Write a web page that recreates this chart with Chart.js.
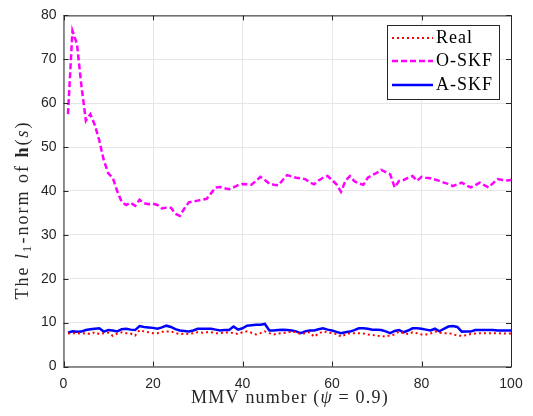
<!DOCTYPE html>
<html>
<head>
<meta charset="utf-8">
<script src="https://cdn.jsdelivr.net/npm/chart.js@4"></script>
<style>
  html, body { margin: 0; padding: 0; background: #fff; }
  #wrap { width: 533px; height: 416px; }
</style>
</head>
<body>
<div id="wrap"><canvas id="chart" width="533" height="416"></canvas></div>
<script>
// MMV index 1..100 on the x axis
const mmvIndex = Array.from({ length: 100 }, (_, i) => i + 1)

const realNorm = [
  7.5, 7.6, 7.6, 7.5, 7.6, 7.4, 7.8, 7.4, 7.6, 7.7,
  7.0, 7.5, 7.8, 7.6, 7.5, 7.05, 8.3, 8.0, 7.8, 7.6,
  7.6, 7.9, 8.0, 8.0, 7.6, 7.4, 7.5, 7.4, 7.6, 7.8,
  7.7, 7.8, 7.8, 7.6, 7.6, 7.7, 7.8, 7.6, 7.4, 7.8,
  8.0, 7.7, 7.3, 7.6, 8.0, 7.6, 7.3, 7.5, 7.6, 7.7,
  8.0, 7.8, 7.4, 7.6, 7.8, 6.8, 7.5, 8.0, 7.8, 7.6,
  7.4, 6.8, 7.3, 7.6, 7.6, 7.6, 7.5, 7.3, 7.2, 7.0,
  6.9, 6.8, 7.1, 7.3, 8.0, 7.6, 7.4, 7.8, 7.6, 7.3,
  7.3, 7.5, 8.0, 7.7, 7.6, 7.6, 7.4, 7.0, 7.0, 7.1,
  7.4, 7.5, 7.6, 7.6, 7.6, 7.6, 7.6, 7.5, 7.5, 7.5
]

const oSkfNorm = [
  57.5, 76.5, 73.5, 64, 56, 57.5, 55, 51.5, 47, 44,
  43, 40, 37.5, 36.8, 37.3, 36.6, 38, 37.2, 37, 37.1,
  36.8, 36, 36.2, 36.2, 34.8, 34.3, 36, 37.4, 37.6, 37.8,
  38, 38.2, 39.5, 40.8, 40.9, 40.6, 40.4, 40.8, 41.3, 41.6,
  41.5, 41.4, 42.3, 43.2, 42.5, 41.7, 41.4, 41.3, 42.5, 43.6,
  43.3, 43, 42.9, 42.7, 42, 41.5, 42.4, 43, 43.4, 42.5,
  41.5, 39.8, 42.3, 43.4, 42.2, 41.7, 41.4, 43, 43.6, 44.1,
  44.8, 44.3, 43.8, 40.8, 42.3, 42.5, 43, 43.4, 42.3, 43.2,
  43, 42.9, 42.6, 42.3, 41.9, 41.6, 41.1, 41.5, 41.9, 41.3,
  40.8, 41.3, 41.9, 41.3, 40.8, 41.8, 42.7, 42.5, 42.4, 42.5
]

const aSkfNorm = [
  7.7, 8.0, 7.9, 7.95, 8.3, 8.5, 8.6, 8.7, 7.95, 8.3,
  8.2, 8.0, 8.5, 8.6, 8.4, 8.3, 9.2, 9.0, 8.9, 8.8,
  8.6, 8.9, 9.3, 9.0, 8.5, 8.2, 8.1, 8.0, 8.2, 8.6,
  8.6, 8.6, 8.6, 8.4, 8.2, 8.3, 8.3, 9.1, 8.4, 8.7,
  9.3, 9.4, 9.5, 9.5, 9.7, 8.2, 8.2, 8.3, 8.4, 8.3,
  8.2, 8.0, 7.6, 8.0, 8.2, 8.2, 8.5, 8.7, 8.4, 8.2,
  7.9, 7.6, 7.8, 7.95, 8.3, 8.7, 8.7, 8.6, 8.4, 8.4,
  8.3, 8.0, 7.6, 8.1, 8.3, 7.8, 8.2, 8.7, 8.7, 8.6,
  8.4, 8.2, 8.6, 8.0, 8.6, 9.1, 9.2, 9.0, 7.95, 8.0,
  7.95, 8.3, 8.3, 8.3, 8.3, 8.3, 8.2, 8.2, 8.2, 8.2
]

const xTicks = [0, 20, 40, 60, 80, 100]
const yTicks = [0, 10, 20, 30, 40, 50, 60, 70, 80]

const toPoints = (ys) => ys.map((y, i) => ({ x: mmvIndex[i], y }))

const AXIS_COLOR = "#262626"
const SERIF = "'Liberation Serif', 'DejaVu Serif', serif"

// draw a run of text pieces, each with its own font, centred on x
function drawPieces(ctx, pieces, x, y, size, spacing) {
  ctx.letterSpacing = `${spacing}px`
  let total = 0
  pieces.forEach((p) => {
    ctx.font = `${p.style || ""} ${size * (p.scale || 1)}px ${SERIF}`
    p.w = ctx.measureText(p.t).width
    total += p.w
  })
  let cx = x - total / 2
  pieces.forEach((p) => {
    ctx.font = `${p.style || ""} ${size * (p.scale || 1)}px ${SERIF}`
    ctx.fillText(p.t, cx, y + (p.dy || 0))
    cx += p.w
  })
  ctx.letterSpacing = "0px"
}

// MATLAB style frame, inward ticks, LaTeX-ish titles and boxed legend
const matlabLook = {
  id: "matlabLook",
  afterDraw(chart) {
    const { ctx, chartArea: a, scales } = chart
    ctx.save()
    ctx.strokeStyle = AXIS_COLOR
    ctx.lineWidth = 1
    ctx.strokeRect(a.left + 0.5, a.top + 0.5, a.right - a.left, a.bottom - a.top)
    ctx.beginPath()
    xTicks.forEach((t) => {
      const px = Math.round(scales.x.getPixelForValue(t)) + 0.5
      ctx.moveTo(px, a.bottom); ctx.lineTo(px, a.bottom - 5)
      ctx.moveTo(px, a.top); ctx.lineTo(px, a.top + 5)
    })
    yTicks.forEach((t) => {
      const py = Math.round(scales.y.getPixelForValue(t)) + 0.5
      ctx.moveTo(a.left, py); ctx.lineTo(a.left + 5, py)
      ctx.moveTo(a.right, py); ctx.lineTo(a.right - 5, py)
    })
    ctx.stroke()

    // axis titles
    ctx.fillStyle = AXIS_COLOR
    ctx.textBaseline = "alphabetic"
    ctx.textAlign = "left"
    drawPieces(ctx, [
      { t: "MMV number (" },
      { t: "\u03C8", style: "italic" },
      { t: " = 0.9)" }
    ], 290, 403, 18, 1.2)

    ctx.save()
    ctx.translate(28, 210)
    ctx.rotate(-Math.PI / 2)
    drawPieces(ctx, [
      { t: "The " },
      { t: "l", style: "italic" },
      { t: "1", scale: 0.7, dy: 3 },
      { t: "-norm of " },
      { t: "h", style: "bold" },
      { t: "(" },
      { t: "s", style: "italic" },
      { t: ")" }
    ], 0, 0, 18, 2)
    ctx.restore()

    // legend
    const lx = 387, ly = 25, lw = 112, lh = 74
    ctx.fillStyle = "#fff"
    ctx.fillRect(lx, ly, lw, lh)
    ctx.strokeStyle = AXIS_COLOR
    ctx.strokeRect(lx + 0.5, ly + 0.5, lw, lh)
    const rows = [38, 61, 85]
    chart.data.datasets.forEach((ds, i) => {
      const y = rows[i]
      ctx.beginPath()
      ctx.strokeStyle = ds.borderColor
      ctx.lineWidth = ds.borderWidth
      ctx.setLineDash(ds.borderDash || [])
      ctx.moveTo(lx + 5, y); ctx.lineTo(lx + 46, y)
      ctx.stroke()
      ctx.setLineDash([])
      ctx.fillStyle = "#000"
      ctx.font = `18px ${SERIF}`
      ctx.letterSpacing = "1px"
      ctx.textBaseline = "middle"
      ctx.fillText(ds.label, lx + 49, y)
      ctx.letterSpacing = "0px"
    })
    ctx.restore()
  }
}

new Chart(document.getElementById("chart"), {
  type: "line",
  data: {
    datasets: [
      {
        label: "Real",
        data: toPoints(realNorm),
        borderColor: "#ff0000",
        borderWidth: 2,
        borderDash: [2, 3],
        pointRadius: 0,
        tension: 0
      },
      {
        label: "O-SKF",
        data: toPoints(oSkfNorm),
        borderColor: "#ff00ff",
        borderWidth: 2.5,
        borderDash: [6, 3],
        pointRadius: 0,
        tension: 0
      },
      {
        label: "A-SKF",
        data: toPoints(aSkfNorm),
        borderColor: "#0000ff",
        borderWidth: 2.5,
        pointRadius: 0,
        tension: 0
      }
    ]
  },
  options: {
    responsive: false,
    animation: false,
    layout: { padding: { top: 14, right: 22, left: 0, bottom: 0 } },
    plugins: { legend: { display: false }, tooltip: { enabled: false } },
    scales: {
      x: {
        type: "linear",
        min: 0,
        max: 100,
        afterBuildTicks: (s) => { s.ticks = xTicks.map((v) => ({ value: v })) },
        afterFit: (s) => { s.height = 49.5 },
        grid: { color: "#e6e6e6", drawTicks: false },
        border: { display: false },
        ticks: {
          color: AXIS_COLOR,
          padding: 9,
          maxRotation: 0,
          font: { family: "'Liberation Sans', Arial, sans-serif", size: 14 }
        }
      },
      y: {
        type: "linear",
        min: 0,
        max: 80,
        afterBuildTicks: (s) => { s.ticks = yTicks.map((v) => ({ value: v })) },
        afterFit: (s) => { s.width = 63.5 },
        grid: { color: "#e6e6e6", drawTicks: false },
        border: { display: false },
        ticks: {
          color: AXIS_COLOR,
          padding: 7,
          font: { family: "'Liberation Sans', Arial, sans-serif", size: 14 }
        }
      }
    }
  },
  plugins: [matlabLook]
})
</script>
</body>
</html>
